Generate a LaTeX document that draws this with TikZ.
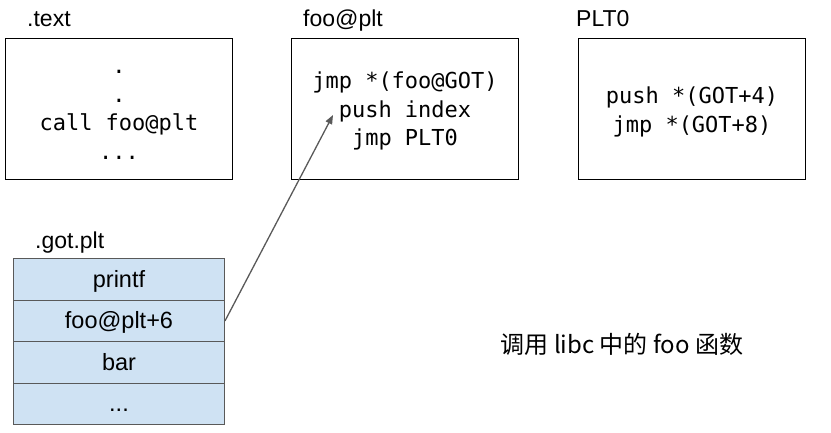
\documentclass[tikz,border=0pt]{standalone}
\usepackage{fontspec}
\setmainfont{Liberation Sans}
\setmonofont{DejaVu Sans Mono}
\newfontfamily\cjk{Noto Sans CJK SC}
\usetikzlibrary{arrows.meta}
\definecolor{cellfill}{HTML}{CFE2F3}
\definecolor{edgegray}{HTML}{595959}
\tikzset{
  codebox/.style={draw=black, line width=1pt, minimum width=227pt, minimum height=141pt,
    inner sep=0pt, anchor=north west},
  code/.style={inner sep=0pt, align=center,
    font=\ttfamily\fontsize{22}{28.5}\selectfont},
  lbl/.style={font=\fontsize{23}{26}\selectfont, anchor=base west, inner sep=0pt},
  cell/.style={draw=edgegray, fill=cellfill, line width=1pt, minimum width=211pt,
    minimum height=41.4pt, inner sep=0pt, text height=17pt, text depth=1pt,
    anchor=north west, font=\fontsize{23.5}{26}\selectfont},
  link/.style={draw=edgegray, line width=1.3pt, -{Triangle[length=9pt,width=7pt]}}
}
\begin{document}
\begin{tikzpicture}[x=1pt,y=-1pt]
\useasboundingbox (0,0) rectangle (831,433);
% section labels
\node[lbl] (ltext) at (27,27) {.text};
\node[lbl] (lfoo) at (303,27) {foo@plt};
\node[lbl] (lplt) at (576,27) {PLT0};
\node[lbl] (lgot) at (35,249) {.got.plt};
% code boxes
\node[codebox] (textbox) at (5,38) {};
\node[code] (textcode) at ([yshift=-6pt]textbox.center) {.\\.\\call foo@plt\\...};
\node[codebox] (foobox) at (291,38) {};
\node[code] (foocode) at ([yshift=-2pt]foobox.center) {jmp *(foo@GOT)\\push index\\jmp PLT0};
\node[codebox] (pltbox) at (578,38) {};
\node[code] (pltcode) at ([yshift=-3pt]pltbox.center) {push *(GOT+4)\\jmp *(GOT+8)};
% got.plt table
\node[cell] (c1) at (13,258.3) {printf};
\node[cell] (c2) at (13,299.7) {foo@plt+6};
\node[cell] (c3) at (13,341.1) {bar};
\node[cell] (c4) at (13,382.5) {...};
% arrow
\coordinate (tip) at (333,115);
\draw[link] (c2.east) -- (tip);
% note
\node[font=\cjk\fontsize{24}{28}\selectfont] (note) at (622,344) {调用 libc 中的 foo 函数};
\end{tikzpicture}
\end{document}
